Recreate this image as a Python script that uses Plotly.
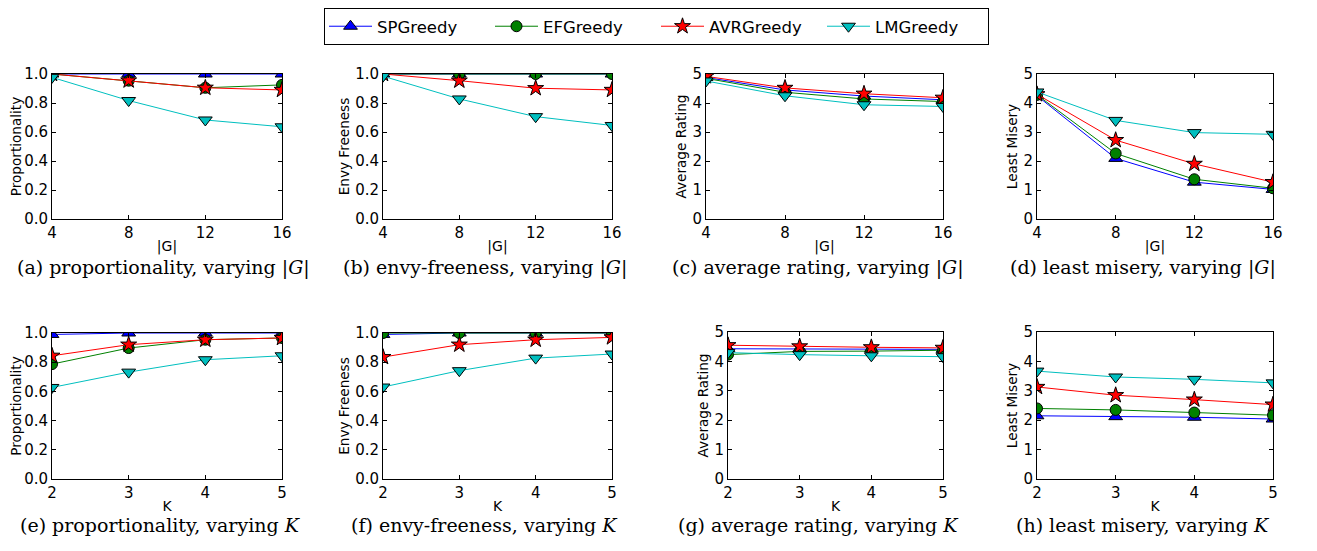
import plotly.graph_objects as go

W, H = 1317, 551
OFF = 8  # page body margin in the browser

methods = ["SPGreedy", "EFGreedy", "AVRGreedy", "LMGreedy"]
colors = ["#0000ff", "#008000", "#ff0000", "#00bfbf"]
symbols = ["triangle-up", "circle", "star", "triangle-down"]
sizes = [12, 11, 12, 12]

G = [4, 8, 12, 16]
K = [2, 3, 4, 5]

# varying |G|
prop_G = {"SPGreedy": [1.0, 1.0, 1.0, 1.0],
          "EFGreedy": [1.0, 0.954, 0.905, 0.925],
          "AVRGreedy": [1.0, 0.955, 0.905, 0.89],
          "LMGreedy": [0.977, 0.817, 0.683, 0.636]}
envy_G = {"SPGreedy": [1.0, 1.0, 1.0, 1.0],
          "EFGreedy": [1.0, 1.0, 1.0, 1.0],
          "AVRGreedy": [1.0, 0.954, 0.902, 0.89],
          "LMGreedy": [0.985, 0.828, 0.706, 0.645]}
avg_G = {"SPGreedy": [4.88, 4.45, 4.24, 4.11],
         "EFGreedy": [4.85, 4.37, 4.14, 4.05],
         "AVRGreedy": [4.92, 4.52, 4.32, 4.18],
         "LMGreedy": [4.76, 4.25, 3.94, 3.88]}
lm_G = {"SPGreedy": [4.25, 2.09, 1.27, 1.02],
        "EFGreedy": [4.28, 2.26, 1.37, 1.06],
        "AVRGreedy": [4.3, 2.72, 1.9, 1.27],
        "LMGreedy": [4.38, 3.4, 2.98, 2.92]}

# varying K
prop_K = {"SPGreedy": [0.99, 1.0, 1.0, 1.0],
          "EFGreedy": [0.787, 0.897, 0.954, 0.966],
          "AVRGreedy": [0.844, 0.92, 0.954, 0.966],
          "LMGreedy": [0.627, 0.732, 0.817, 0.844]}
envy_K = {"SPGreedy": [0.99, 1.0, 1.0, 1.0],
          "EFGreedy": [1.0, 1.0, 1.0, 1.0],
          "AVRGreedy": [0.835, 0.92, 0.954, 0.97],
          "LMGreedy": [0.63, 0.742, 0.828, 0.856]}
avg_K = {"SPGreedy": [4.43, 4.43, 4.43, 4.41],
         "EFGreedy": [4.23, 4.34, 4.35, 4.38],
         "AVRGreedy": [4.55, 4.51, 4.48, 4.46],
         "LMGreedy": [4.3, 4.23, 4.19, 4.16]}
lm_K = {"SPGreedy": [2.15, 2.12, 2.1, 2.04],
        "EFGreedy": [2.4, 2.35, 2.26, 2.17],
        "AVRGreedy": [3.13, 2.85, 2.7, 2.53],
        "LMGreedy": [3.67, 3.47, 3.39, 3.27]}

panels = [
    (G, prop_G, "Proportionality", "|G|", "unit", "(a) proportionality, varying |<i>G</i>|"),
    (G, envy_G, "Envy Freeness", "|G|", "unit", "(b) envy-freeness, varying |<i>G</i>|"),
    (G, avg_G, "Average Rating", "|G|", "five", "(c) average rating, varying |<i>G</i>|"),
    (G, lm_G, "Least Misery", "|G|", "five", "(d) least misery, varying |<i>G</i>|"),
    (K, prop_K, "Proportionality", "K", "unit", "(e) proportionality, varying <i>K</i>"),
    (K, envy_K, "Envy Freeness", "K", "unit", "(f) envy-freeness, varying <i>K</i>"),
    (K, avg_K, "Average Rating", "K", "five", "(g) average rating, varying <i>K</i>"),
    (K, lm_K, "Least Misery", "K", "five", "(h) least misery, varying <i>K</i>"),
]

# target screen-pixel boxes (left, right, top, bottom)
boxes = [(52, 282, 74, 219), (383, 612, 74, 219), (706, 943, 74, 219), (1037, 1273, 74, 219),
         (52, 282, 333, 479), (383, 612, 333, 479), (728, 943, 332, 479), (1037, 1273, 332, 479)]
cap_x = [163, 485, 818, 1143, 160, 484, 818, 1143]
cap_y = [267, 267, 267, 267, 525, 525, 525, 525]


def fx(px):
    return (px - OFF) / W


def fy(py):
    return 1 - (py - OFF) / H


fig = go.Figure()
font_fam = "DejaVu Sans"

for i, (xs, data, ylab, xlab, kind, cap) in enumerate(panels):
    n = i + 1
    xa = "x" if n == 1 else f"x{n}"
    ya = "y" if n == 1 else f"y{n}"
    for j, m in enumerate(methods):
        fig.add_trace(go.Scatter(
            x=xs, y=data[m], mode="lines+markers", name=m,
            xaxis=xa, yaxis=ya, showlegend=(n == 1), legendgroup=m,
            line=dict(color=colors[j], width=1),
            marker=dict(symbol=symbols[j], size=sizes[j], color=colors[j],
                        line=dict(color="black", width=1)),
        ))
    l, r, t, b = boxes[i]
    common = dict(showline=True, linecolor="black", linewidth=1, mirror="ticks",
                  ticks="inside", ticklen=4, tickwidth=1, tickcolor="black",
                  showgrid=False, zeroline=False, automargin=False,
                  tickfont=dict(family=font_fam, size=15, color="black"))
    xkey = "xaxis" if n == 1 else f"xaxis{n}"
    ykey = "yaxis" if n == 1 else f"yaxis{n}"
    fig.update_layout({
        xkey: dict(domain=[fx(l), fx(r)], anchor=ya, range=[xs[0], xs[-1]],
                   tickvals=xs, title=dict(text=xlab, standoff=0,
                                           font=dict(family=font_fam, size=14, color="black")),
                   **common),
        ykey: dict(domain=[fy(b), fy(t)], anchor=xa,
                   range=[0, 1] if kind == "unit" else [0, 5],
                   tickvals=[0, 0.2, 0.4, 0.6, 0.8, 1.0] if kind == "unit" else [0, 1, 2, 3, 4, 5],
                   tickformat=".1f" if kind == "unit" else "d",
                   title=dict(text=ylab, standoff=2,
                              font=dict(family=font_fam, size=13.6, color="black")),
                   **common),
    })
    fig.add_annotation(x=fx(cap_x[i]), y=fy(cap_y[i]), xref="paper", yref="paper",
                       text=cap, showarrow=False, xanchor="center", yanchor="middle",
                       font=dict(family="DejaVu Serif", size=19, color="black"))

fig.update_layout(
    width=W, height=H,
    margin=dict(l=0, r=0, t=0, b=0),
    paper_bgcolor="white", plot_bgcolor="white",
    legend=dict(orientation="h", x=fx(324), y=1.0, xanchor="left", yanchor="top",
                bordercolor="black", borderwidth=1, bgcolor="white",
                font=dict(family=font_fam, size=16.5, color="black"),
                itemwidth=43, entrywidth=108),
)

fig.write_html("out.html")
